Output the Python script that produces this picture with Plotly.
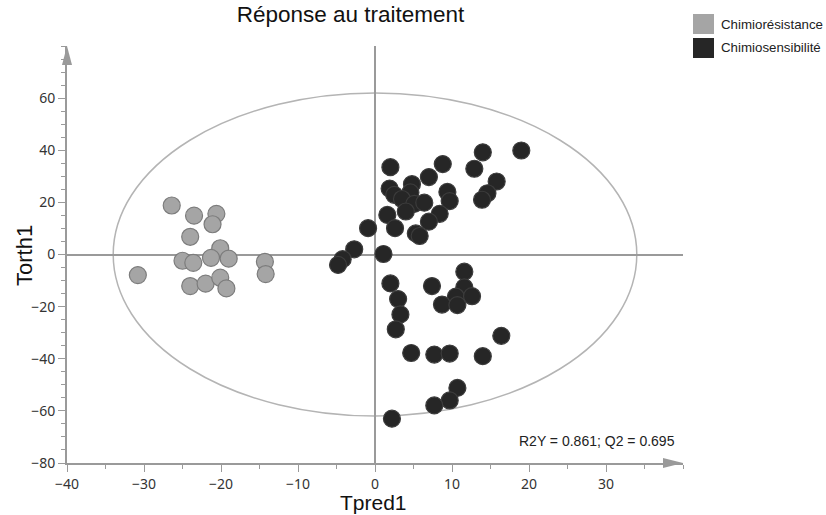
import plotly.graph_objects as go

# ---------------- data ----------------
SERIES_NAMES = ["Chimiorésistance", "Chimiosensibilité"]

resist_tpred = [-30.8, -26.4, -23.5, -20.6, -21.1, -24.0, -20.1, -25.0, -23.6, -21.3,
                -19.0, -14.3, -14.2, -24.0, -22.0, -20.1, -19.3]
resist_torth = [-7.9, 18.8, 14.9, 15.6, 11.6, 6.8, 2.4, -2.4, -3.2, -1.3,
                -1.6, -2.8, -7.5, -12.1, -11.2, -8.9, -13.0]

sens_tpred = [2.0, 8.8, 14.0, 19.0, 12.9, 15.8, 14.6, 13.9, 7.0, 1.9,
              2.5, 4.8, 4.6, 3.5, 5.1, 6.4, 4.0, 9.4, 9.7, 8.4,
              7.0, 1.6, 2.6, 5.3, 5.8, -0.9, -2.7, -4.2, -4.8, 1.1,
              2.0, 7.4, 11.6, 11.6, 10.5, 12.6, 3.0, 8.7, 10.7, 3.3,
              2.7, 16.4, 4.7, 7.7, 9.7, 14.0, 10.7, 9.7, 7.7, 2.2]
sens_torth = [33.5, 34.7, 39.2, 39.9, 32.9, 28.0, 23.5, 21.0, 29.7, 25.3,
              22.9, 27.0, 23.8, 21.3, 19.4, 19.9, 16.5, 24.0, 20.5, 15.6,
              12.6, 15.2, 10.1, 8.1, 7.1, 10.1, 2.0, -1.8, -4.0, 0.2,
              -11.1, -12.1, -6.6, -12.6, -16.2, -16.0, -17.1, -19.2, -19.4, -23.0,
              -28.7, -31.2, -37.8, -38.4, -38.0, -39.0, -51.2, -56.0, -57.9, -63.0]

X_TICKS = [-40, -30, -20, -10, 0, 10, 20, 30]
Y_TICKS = [-80, -60, -40, -20, 0, 20, 40, 60]
X_RANGE = [-40, 40]
Y_RANGE = [-80, 80]
ELLIPSE_A = 34.0   # Hotelling T2 ellipse semi-axis (Tpred1)
ELLIPSE_B = 62.0   # Hotelling T2 ellipse semi-axis (Torth1)
STATS_TEXT = "R2Y = 0.861; Q2 = 0.695"
TITLE = "Réponse au traitement"
X_TITLE = "Tpred1"
Y_TITLE = "Torth1"

# ---------------- style ----------------
W, H = 826, 515
ML, MR, MT, MB = 67, 143, 46, 52
AXIS_COL = "#9a9a9a"
GRAY_FILL, GRAY_EDGE = "#a5a5a5", "#7c7c7c"
DARK_FILL, DARK_EDGE = "#262626", "#3c3c3c"
ARIAL = "Liberation Sans, Arial, sans-serif"
TICKFONT = "Noto Sans, Segoe UI, sans-serif"

pw = W - ML - MR
ph = H - MT - MB


def px_x(px):
    return (px - ML) / pw


def px_y(py):
    return (H - MB - py) / ph


fig = go.Figure()
fig.add_trace(go.Scatter(
    x=resist_tpred, y=resist_torth, mode="markers", name=SERIES_NAMES[0],
    marker=dict(size=17, color=GRAY_FILL, line=dict(color=GRAY_EDGE, width=1.2)),
    showlegend=False, cliponaxis=False))
fig.add_trace(go.Scatter(
    x=sens_tpred, y=sens_torth, mode="markers", name=SERIES_NAMES[1],
    marker=dict(size=17, color=DARK_FILL, line=dict(color=DARK_EDGE, width=1.2)),
    showlegend=False, cliponaxis=False))

shapes = [
    dict(type="circle", xref="x", yref="y", layer="below",
         x0=-ELLIPSE_A, x1=ELLIPSE_A, y0=-ELLIPSE_B, y1=ELLIPSE_B,
         line=dict(color="#b4b4b4", width=1.5)),
    # arrowhead at the end of the x axis
    dict(type="path", xref="paper", yref="paper", xsizemode="pixel", ysizemode="pixel",
         xanchor=1, yanchor=0,
         path="M -20,-5 L 0,0 L -20,5 Z", fillcolor=AXIS_COL, line=dict(width=0)),
    # arrowhead at the end of the y axis
    dict(type="path", xref="paper", yref="paper", xsizemode="pixel", ysizemode="pixel",
         xanchor=0, yanchor=1,
         path="M -5,-19 L 0,0 L 5,-19 Z", fillcolor=AXIS_COL, line=dict(width=0)),
]

# custom legend (square swatches)
legend_cols = [GRAY_FILL, DARK_FILL]
annotations = []
for i, (name, col) in enumerate(zip(SERIES_NAMES, legend_cols)):
    top = 14 + i * 24
    shapes.append(dict(type="rect", xref="paper", yref="paper",
                       x0=px_x(693), x1=px_x(714), y0=px_y(top + 20), y1=px_y(top),
                       fillcolor=col, line=dict(width=0)))
    annotations.append(dict(xref="paper", yref="paper", x=px_x(719), y=px_y(top + 10),
                            text=name, showarrow=False, xanchor="left", yanchor="middle",
                            font=dict(family=ARIAL, size=13.3, color="#222")))

annotations.append(dict(xref="paper", yref="paper", x=px_x(677), y=px_y(441),
                        text=STATS_TEXT, showarrow=False, xanchor="right", yanchor="middle",
                        font=dict(family=ARIAL, size=14, color="#222")))
# axis titles
annotations.append(dict(xref="paper", yref="paper", x=px_x(373), y=px_y(514.5),
                        text=X_TITLE, showarrow=False, xanchor="center", yanchor="bottom",
                        borderpad=0,
                        font=dict(family=ARIAL, size=21, color="#111")))
annotations.append(dict(xref="paper", yref="paper", x=px_x(24), y=px_y(256),
                        text=Y_TITLE, showarrow=False, xanchor="center", yanchor="middle",
                        textangle=-90,
                        font=dict(family=ARIAL, size=22, color="#111")))

axis_common = dict(
    showgrid=False, zeroline=True, zerolinecolor=AXIS_COL, zerolinewidth=1.5,
    showline=True, linecolor=AXIS_COL, linewidth=2,
    ticks="outside", ticklen=7, tickcolor=AXIS_COL, tickwidth=1,
    tickfont=dict(family=TICKFONT, size=14, color="#333"),
    minor=dict(ticks="outside", ticklen=4, tickcolor=AXIS_COL, dtick=5, showgrid=False),
    fixedrange=True, automargin=False,
)

fig.update_layout(
    width=W, height=H,
    margin=dict(l=ML, r=MR, t=MT, b=MB, autoexpand=False),
    paper_bgcolor="white", plot_bgcolor="white",
    title=dict(text=TITLE, x=350.5 / W, xref="container", xanchor="center",
               y=1 - 14 / H, yref="container", yanchor="middle",
               font=dict(family=ARIAL, size=22.5, color="#111")),
    xaxis=dict(range=X_RANGE, tickvals=X_TICKS, **axis_common),
    yaxis=dict(range=Y_RANGE, tickvals=Y_TICKS, ticklabelstandoff=0, **axis_common),
    shapes=shapes,
    annotations=annotations,
    showlegend=False,
)

fig.write_html(
    "out.html",
    config={"displayModeBar": False},
    post_script="document.body.style.margin='0';document.body.style.overflow='hidden';",
)
